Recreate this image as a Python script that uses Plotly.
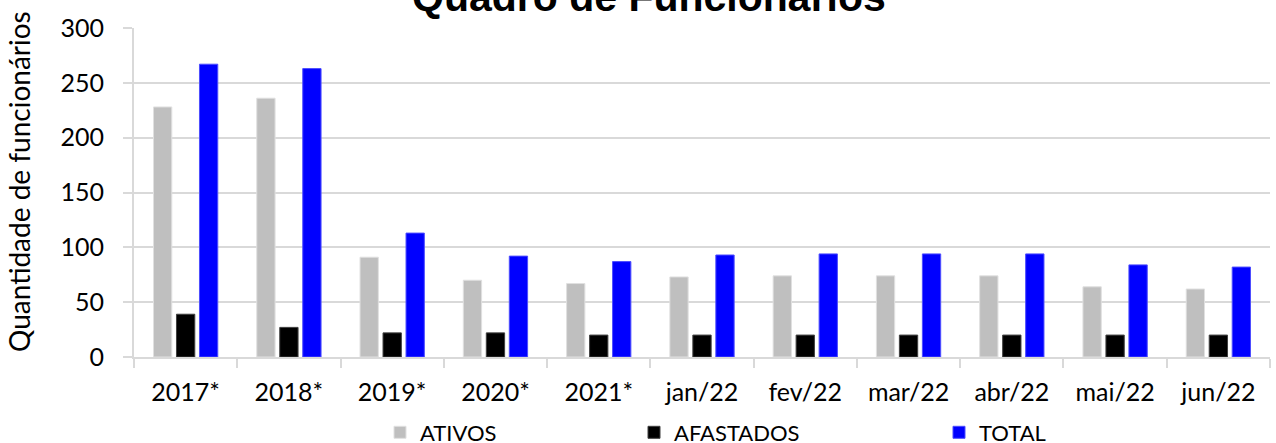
import plotly.graph_objects as go

categories = ["2017*", "2018*", "2019*", "2020*", "2021*", "jan/22", "fev/22",
              "mar/22", "abr/22", "mai/22", "jun/22"]
ativos = [228, 236, 91, 70, 67, 73, 74, 74, 74, 64, 62]
afastados = [39, 27, 22, 22, 20, 20, 20, 20, 20, 20, 20]
total = [267, 263, 113, 92, 87, 93, 94, 94, 94, 84, 82]
y_ticks = [0, 50, 100, 150, 200, 250, 300]

W, H = 1276, 443
L, R, T, B = 134, 6, 28, 86
PW = W - L - R
PH = H - T - B

def px_x(p):
    return (p - L) / PW

def px_y(p):
    return (H - B - p) / PH

FONT = "Lato"
GRID = "#D9D9D9"

fig = go.Figure()
fig.add_trace(go.Bar(name="ATIVOS", x=categories, y=ativos,
                     marker=dict(color="#BFBFBF", line=dict(color="#E0E0E0", width=1)),
                     legend="legend", showlegend=True))
fig.add_trace(go.Bar(name="AFASTADOS", x=categories, y=afastados,
                     marker=dict(color="#000000", line=dict(color="#404040", width=1)),
                     legend="legend2", showlegend=True))
fig.add_trace(go.Bar(name="TOTAL", x=categories, y=total,
                     marker=dict(color="#0000FF", line=dict(color="#4D4DFF", width=1)),
                     legend="legend3", showlegend=True))

leg_common = dict(orientation="h", xanchor="left", yanchor="middle", visible=True,
                  font=dict(family=FONT, size=22, color="#000000"),
                  bgcolor="rgba(0,0,0,0)", borderwidth=0)

fig.update_layout(
    width=W, height=H,
    margin=dict(l=L, r=R, t=T, b=B, autoexpand=False),
    showlegend=True,
    paper_bgcolor="white", plot_bgcolor="white",
    barmode="group", bargap=0.332, bargroupgap=0.204,
    font=dict(family=FONT, size=25, color="#000000"),
    xaxis=dict(showline=True, linecolor=GRID, linewidth=2, automargin=False,
               ticks="outside", tickson="boundaries", ticklen=9, tickcolor=GRID, tickwidth=2,
               ticklabelstandoff=12,
               tickfont=dict(family=FONT, size=25, color="#000000"),
               showgrid=False),
    yaxis=dict(range=[0, 300], tickvals=y_ticks, showline=True, linecolor=GRID, linewidth=2,
               automargin=False,
               ticks="outside", ticklen=9, tickcolor=GRID, tickwidth=2, ticklabelstandoff=14,
               showgrid=True, gridcolor=GRID, gridwidth=2, zeroline=False,
               tickfont=dict(family=FONT, size=25, color="#000000")),
    legend=dict(x=px_x(380), y=px_y(432.5), **leg_common),
    legend2=dict(x=px_x(634), y=px_y(432.5), **leg_common),
    legend3=dict(x=px_x(939), y=px_y(432.5), **leg_common),
    annotations=[
        dict(text="<b>Quadro de Funcionários</b>", xref="paper", yref="paper",
             x=px_x(649), y=px_y(-2.5), xanchor="center", yanchor="middle",
             showarrow=False, font=dict(family="Liberation Sans", size=41, color="#000000")),
        dict(text="Quantidade de funcionários", xref="paper", yref="paper",
             x=px_x(19), y=px_y(182), xanchor="center", yanchor="middle", textangle=-90,
             showarrow=False, font=dict(family=FONT, size=28, color="#000000")),
    ],
)

fig.write_html("out.html", config={"displayModeBar": False},
               post_script="document.body.style.margin='0';document.body.style.overflow='hidden';")
